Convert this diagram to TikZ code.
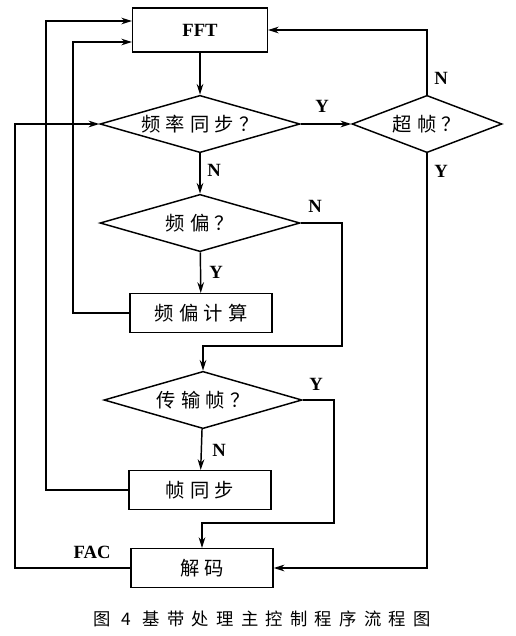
\documentclass[tikz,border=0pt]{standalone}
\usepackage{fontspec}
\setmainfont{Liberation Serif}
\newfontfamily\cjk[LetterSpace=27]{Noto Sans CJK SC}
\newfontfamily\cjkcap[LetterSpace=42]{Noto Sans CJK SC}
\usetikzlibrary{shapes.geometric,arrows.meta}
\begin{document}
\begin{tikzpicture}[x=0.75pt,y=-0.75pt,line width=1.1pt,
    procbox/.style={draw, minimum width=106.5pt, minimum height=29pt, inner sep=0pt,
      font=\cjk\fontsize{14.5}{14.5}\selectfont},
    choice/.style={draw, diamond, aspect=3.5, minimum width=150pt, minimum height=43pt,
      inner sep=0pt, font=\cjk\fontsize{14.5}{14.5}\selectfont},
    arr/.style={-{Stealth[length=8pt,width=5pt]}},
    yn/.style={font=\bfseries\fontsize{14}{14}\selectfont}]
        \useasboundingbox (0,0) rectangle (516,636);

        % Blocchi
        \node[procbox, minimum width=101pt, minimum height=33pt,
              font=\bfseries\fontsize{14}{14}\selectfont] (fft) at (200,30) {FFT};
        \node[choice] (fsync) at (200,124) {频率同步？};
        \node[choice, minimum width=112.5pt] (superf) at (427,124) {超帧？};
        \node[choice] (foff) at (200,223) {频偏？};
        \node[procbox] (foffcalc) at (201,313) {频偏计算};
        \node[choice, minimum width=148.5pt] (tframe) at (203,400) {传输帧？};
        \node[procbox] (framesync) at (200,490) {帧同步};
        \node[procbox] (decode) at (202,568) {解码};

        % Punti di piega
        \coordinate (b1) at (73,42);
        \coordinate (b2) at (46,21);
        \coordinate (b3) at (15,124);
        \coordinate (b4) at (342,346);
        \coordinate (b5) at (334,523);

        % Collegamenti
        \draw[arr] (fft) -- (fsync);
        \draw[arr] (fsync) -- (superf);
        \draw[arr] (superf.north) |- (fft.east);
        \draw[arr] (superf.south) |- (decode.east);
        \draw[arr] (fsync) -- (foff);
        \draw[arr] (foff) -- (foffcalc);
        \draw[arr] (foff.east) -| (b4) -| (tframe.north);
        \draw[arr] (foffcalc.west) -| (b1) -- (b1 -| fft.west);
        \draw[arr] (tframe.east) -| (b5) -| (decode.north);
        \draw[arr] (tframe) -- (framesync);
        \draw[arr] (framesync.west) -| (b2) -- (b2 -| fft.west);
        \draw[arr] (decode.west) -| (b3) -- (fsync.west);

        % Etichette
        \node[yn] at (322,106) {Y};
        \node[yn] at (441,78) {N};
        \node[yn] at (441,171) {Y};
        \node[yn] at (214,170) {N};
        \node[yn] at (315,206) {N};
        \node[yn] at (216,272) {Y};
        \node[yn] at (316,384) {Y};
        \node[yn] at (219,450) {N};
        \node[yn] at (92,552) {FAC};

        \node[font=\cjkcap\fontsize{13}{13}\selectfont] (cap) at (262,619) {图 4 基带处理主控制程序流程图};
    \end{tikzpicture}
\end{document}
